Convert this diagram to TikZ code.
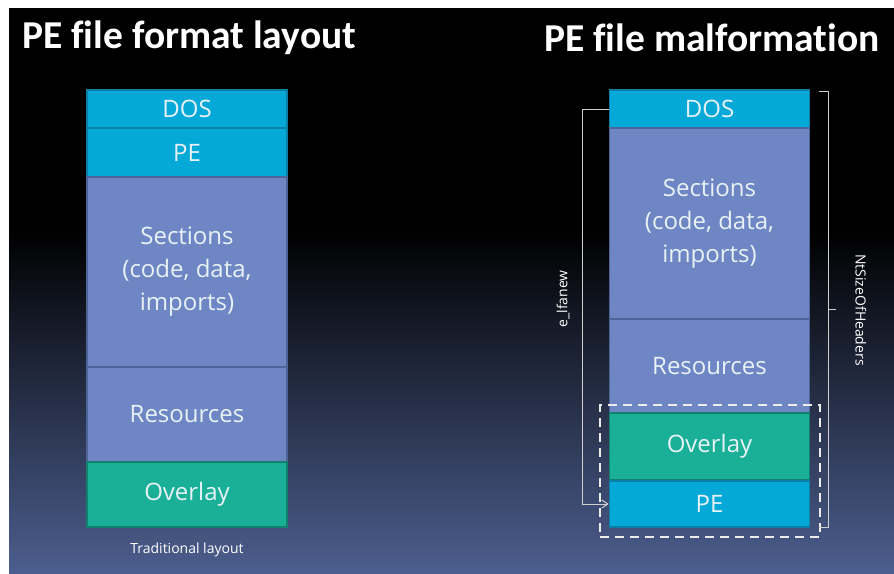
\documentclass[tikz,border=0pt]{standalone}
\usepackage{fontspec}
\setmainfont[Ligatures={NoCommon}, RawFeature={-liga;-calt;-clig}]{Carlito}
\newfontfamily\boxfont{Open Sans}
\usetikzlibrary{arrows.meta}
\definecolor{cyanbox}{HTML}{05A9D8}
\definecolor{cyanedge}{HTML}{0B7FA6}
\definecolor{secbox}{HTML}{6E86C3}
\definecolor{secedge}{HTML}{4D6499}
\definecolor{ovbox}{HTML}{19B097}
\definecolor{ovedge}{HTML}{11806E}
\definecolor{boxtext}{HTML}{E8F2F6}
\definecolor{bgbot}{HTML}{4C5E8E}
\definecolor{linegray}{HTML}{D0D0D0}
\tikzset{
  blk/.style={rectangle, minimum width=200pt, inner sep=0pt, line width=1.6pt, text=boxtext, font=\boxfont\fontsize{24}{33}\selectfont, align=center},
  dosbox/.style={blk, fill=cyanbox, draw=cyanedge},
  secboxst/.style={blk, fill=secbox, draw=secedge},
  ovboxst/.style={blk, fill=ovbox, draw=ovedge},
  title/.style={text=white, font=\bfseries\fontsize{39.5}{46}\selectfont, inner sep=0pt},
  small/.style={text=white, font=\boxfont\fontsize{14}{16}\selectfont, inner sep=0pt},
  conn/.style={draw=linegray, line width=1pt},
}
\begin{document}
\begin{tikzpicture}[x=1pt,y=-1pt]
\useasboundingbox (0,0) rectangle (894,573);
\fill[white] (0,0) rectangle (894,573);
\fill[black] (9,8) rectangle (894,231);
\shade[top color=black, bottom color=bgbot] (9,230) rectangle (894,573);

\node[title, anchor=west] (t1) at (22,38) {PE file format layout};
\node[title, anchor=east] (t2) at (880,38) {PE file malformation};

% left stack
\node[dosbox, minimum height=38pt] (ldos) at (187,109) {DOS};
\node[dosbox, minimum height=49pt] (lpe) at (187,152.5) {PE};
\node[secboxst, minimum height=190pt] (lsec) at (187,272) {Sections\\(code, data,\\imports)};
\node[secboxst, minimum height=95pt] (lres) at (187,414.5) {Resources};
\node[ovboxst, minimum height=65pt] (lov) at (187,494.5) {Overlay};
\node[small] (trad) at (187,550) {Traditional layout};

% right stack
\node[dosbox, minimum height=38pt] (rdos) at (709.5,109) {DOS};
\node[secboxst, minimum height=191pt] (rsec) at (709.5,223.5) {Sections\\(code, data,\\imports)};
\node[secboxst, minimum height=94pt] (rres) at (709.5,366) {Resources};
\node[ovboxst, minimum height=67pt] (rov) at (709.5,446.5) {Overlay};
\node[dosbox, minimum height=46pt] (rpe) at (709.5,504) {PE};

% dashed box
\node[draw=white!85!gray, line width=2pt, dash pattern=on 9pt off 6pt, minimum width=220pt, minimum height=132pt, inner sep=0pt] (dash) at (710,471) {};

% e_lfanew connector
\coordinate (lx) at (582,0);
\draw[conn, -{Straight Barb[length=6pt,width=8pt]}] (rdos.west) -- (rdos.west -| lx) -- (rpe.west -| lx) -- (rpe.west);
\node[small, rotate=90] (lfa) at (563,299) {e\_lfanew};

% NtSizeOfHeaders brace
\coordinate (bx) at (828,0);
\coordinate (btop) at (819,91);
\coordinate (bbot) at (819,527);
\coordinate (bmid) at (836,309);
\draw[conn] (btop) -- (btop -| bx) -- (bbot -| bx) -- (bbot);
\draw[conn] (bmid -| bx) -- (bmid);
\node[small, rotate=-90] (nts) at (861,310) {NtSizeOfHeaders};
\end{tikzpicture}
\end{document}
